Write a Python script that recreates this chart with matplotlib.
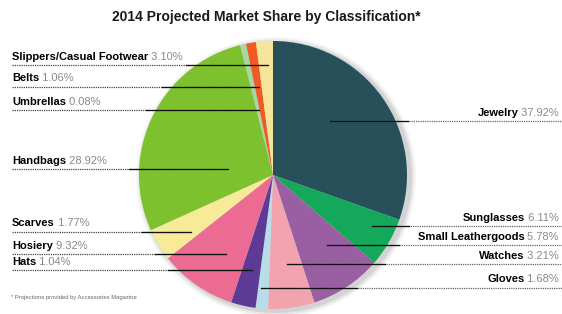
import matplotlib
matplotlib.use("Agg")
import matplotlib.pyplot as plt
from matplotlib.patches import Circle

plt.rcParams["font.family"] = ["Liberation Sans", "DejaVu Sans"]

# 数据：类别、标注百分比、图中扇区角度（按原图量取）
categories = ["Jewelry", "Sunglasses", "Small Leathergoods", "Watches", "Gloves", "Hats",
              "Hosiery", "Scarves", "Handbags", "Umbrellas", "Belts", "Slippers/Casual Footwear"]
share_pct = [37.92, 6.11, 5.78, 3.21, 1.68, 1.04, 9.32, 1.77, 28.92, 0.08, 1.06, 3.10]
slice_deg = [109.5, 21.4, 31.1, 20.1, 5.4, 10.7, 33.4, 14.1, 100.1, 2.6, 4.3, 7.3]
colors = ["#28505b", "#13a85a", "#9a5ea3", "#f2a3ad", "#b8dde8", "#5d3a96",
          "#ec6b93", "#f7eb9a", "#7ec12f", "#a9d6a4", "#f05a24", "#f5e49a"]

title = "2014 Projected Market Share by Classification*"
note = "* Projections provided by Accessories Magazine"

W, H = 562, 314
cx, cy, r = 273, 175, 134

# 标签布局（像素坐标，y 向下）
left_names = ["Slippers/Casual Footwear", "Belts", "Umbrellas", "Handbags", "Scarves", "Hosiery", "Hats"]
left_text_y = [57, 78, 102, 161, 223, 246, 262]
left_line_y = [65, 87, 110, 169, 232, 254, 270]
left_line_end = [268, 259, 259, 228, 191, 226, 252]

right_names = ["Jewelry", "Sunglasses", "Small Leathergoods", "Watches", "Gloves"]
right_text_y = [113, 218, 237, 256, 279]
right_line_y = [121, 226, 245, 264, 288]
right_line_start = [330, 372, 327, 287, 261]

fig = plt.figure(figsize=(W / 100, H / 100), dpi=100)
ax = fig.add_axes([0, 0, 1, 1])


def py(y):
    return H - y


# 阴影
for k, a in [(6, 0.04), (4, 0.06), (2, 0.08)]:
    ax.add_patch(Circle((cx + 3, py(cy) - 2), r + k, color="black", alpha=a, lw=0, zorder=0))

ax.pie(slice_deg, colors=colors, startangle=90, counterclock=False,
       center=(cx, py(cy)), radius=r, wedgeprops=dict(linewidth=0, zorder=1))

ax.set_xlim(0, W)
ax.set_ylim(0, H)
ax.axis("off")

fs = 8
grey = "#8a8a8a"


def edge_x(y, side):
    d = (r ** 2 - (y - cy) ** 2) ** 0.5
    return cx - d if side == "left" else cx + d


# 左侧标签
for name, ty, ly, lx in zip(left_names, left_text_y, left_line_y, left_line_end):
    pct = share_pct[categories.index(name)]
    t = ax.text(12, py(ty), name, fontsize=fs, fontweight="bold", va="center", ha="left", zorder=5)
    ax.annotate(" %.2f%%" % pct, xy=(1, 0), xycoords=t, va="bottom", ha="left",
                fontsize=fs, color=grey, zorder=5)
    ax.plot([12, lx], [py(ly), py(ly)], color="#444444", lw=0.9, ls=(0, (1, 0.8)), zorder=3)
    ex = edge_x(ly, "left") - 10
    ax.plot([ex, lx], [py(ly), py(ly)], color="#111111", lw=0.9, zorder=4)

# 右侧标签
for name, ty, ly, lx in zip(right_names, right_text_y, right_line_y, right_line_start):
    pct = share_pct[categories.index(name)]
    p = ax.text(559, py(ty), " %.2f%%" % pct, fontsize=fs, color=grey, va="center", ha="right", zorder=5)
    ax.annotate(name, xy=(0, 0), xycoords=p, va="bottom", ha="right",
                fontsize=fs, fontweight="bold", zorder=5)
    ax.plot([lx, 562], [py(ly), py(ly)], color="#666666", lw=0.9, ls=(0, (1, 0.8)), zorder=3)
    ex = edge_x(ly, "right") + 12
    ax.plot([lx, ex], [py(ly), py(ly)], color="#111111", lw=0.9, zorder=4)

ax.text(266, py(17), title, fontsize=10, fontweight="bold", ha="center", va="center", color="#1a1a1a")
ax.text(11, py(297), note, fontsize=4.2, color="#666666", ha="left", va="center")

fig.savefig("out.png", dpi=100)
